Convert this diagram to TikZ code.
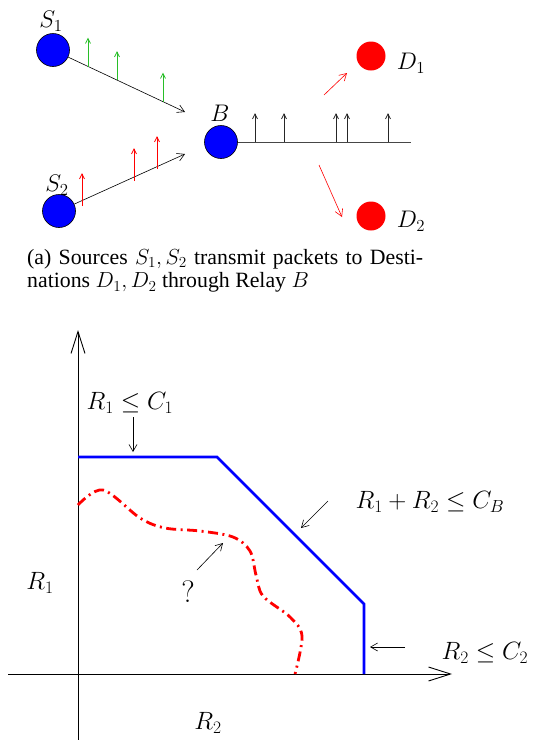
\RequirePackage{fix-cm}
\documentclass[tikz,border=0pt]{standalone}
\usepackage{fontspec}
\newfontfamily\capfont{Liberation Serif}
\usetikzlibrary{arrows.meta}
\definecolor{pgreen}{RGB}{40,190,40}
\definecolor{lgray}{RGB}{70,70,70}
\begin{document}
\begin{tikzpicture}[x=1pt,y=-1pt,
  srcnode/.style={circle, draw=black, fill=blue, minimum size=33pt, inner sep=0pt, line width=0.6pt},
  dstnode/.style={circle, fill=red, minimum size=29pt, inner sep=0pt},
  toplbl/.style={font=\fontsize{24}{28}\selectfont, inner sep=0pt},
  botlbl/.style={font=\fontsize{25}{30}\selectfont, inner sep=0pt},
  flow/.style={line width=0.6pt, -{Straight Barb[length=7pt,width=8pt]}},
  pkt/.style={line width=0.8pt, -{Straight Barb[length=5pt,width=5pt]}},
  note/.style={line width=0.6pt, black, -{Straight Barb[length=7pt,width=8pt]}},
  axis/.style={line width=0.9pt, black, -{Straight Barb[length=22pt,width=14pt]}},
  region/.style={line width=2.8pt, blue, line join=miter},
  guess/.style={line width=2.8pt, red, dash pattern=on 10pt off 4.5pt on 2pt off 4.5pt}
]
\useasboundingbox (0,0) rectangle (534,740);

% ---------- top: network ----------
\node[srcnode] (s1) at (53,50) {};
\node[srcnode] (s2) at (59,211) {};
\node[srcnode] (b) at (221,142) {};
\node[dstnode] (d1) at (371,56) {};
\node[dstnode] (d2) at (371,216) {};

\node[toplbl] (ls1) at (51,21) {$S_1$};
\node[toplbl] (ls2) at (57,185) {$S_2$};
\node[toplbl] (lb) at (220,113) {$B$};
\node[toplbl] (ld1) at (411,63) {$D_1$};
\node[toplbl] (ld2) at (411,221) {$D_2$};

\coordinate (f1) at (185,112);
\coordinate (f2) at (185,154);
\draw[flow] (s1) -- (f1);
\draw[flow] (s2) -- (f2);

% green packets on S1 link
\foreach \x/\y [count=\i] in {88/66.5, 117/80, 163/101.5}{
  \coordinate (ga\i) at (\x,\y);
  \coordinate (gb\i) at (\x,\y-29);
  \draw[pkt, pgreen] (ga\i) -- (gb\i);
}
% red packets on S2 link
\foreach \x/\y [count=\i] in {82/206, 134/181, 157/169}{
  \coordinate (ra\i) at (\x,\y);
  \coordinate (rb\i) at (\x,\y-33);
  \draw[pkt, red] (ra\i) -- (rb\i);
}

% relay broadcast line
\coordinate (bend) at (411,142);
\draw[line width=0.8pt, lgray] (b) -- (bend);
\foreach \x [count=\i] in {255,284,336,347,388}{
  \coordinate (ka\i) at (\x,142);
  \coordinate (kb\i) at (\x,113);
  \draw[pkt, black!85] (ka\i) -- (kb\i);
}

% red arrows to destinations
\coordinate (e1a) at (324,95);
\coordinate (e1b) at (347,73);
\coordinate (e2a) at (319,165);
\coordinate (e2b) at (342,217);
\draw[flow, red] (e1a) -- (e1b);
\draw[flow, red] (e2a) -- (e2b);

% caption
\node[anchor=north west, inner sep=0pt, text width=396pt, align=justify,
      font=\capfont\fontsize{21.8}{23.5}\selectfont] (cap) at (27,249)
  {(a) Sources $S_1, S_2$ transmit packets to Desti-\linebreak
   nations $D_1, D_2$ through Relay $B$};

% ---------- bottom: rate region ----------
\coordinate (ybot) at (78,740);
\coordinate (ytop) at (78,330);
\coordinate (xl) at (8,674);
\coordinate (xr) at (452,674);
\draw[axis] (ybot) -- (ytop);
\draw[axis] (xl) -- (xr);

\coordinate (p1) at (78,457);
\coordinate (p2) at (217,457);
\coordinate (p3) at (364,604);
\coordinate (p4) at (364,674);
\draw[region] (p1) -- (p2) -- (p3) -- (p4);

\draw[guess] plot[smooth, tension=0.55] coordinates {
  (78,505) (103,490) (140,518) (165,528) (200,531) (233,537)
  (250,551) (256,575) (263,596) (290,617) (302,636) (295,674)};

\node[botlbl] (c1) at (130,403) {$R_1 \leq C_1$};
\node[botlbl] (cb) at (430,502) {$R_1 + R_2 \leq C_B$};
\node[botlbl] (c2) at (485,653) {$R_2 \leq C_2$};
\node[botlbl] (r1) at (40,583) {$R_1$};
\node[botlbl] (r2) at (208,723) {$R_2$};
\node[inner sep=0pt, font=\fontsize{31}{34}\selectfont] (q) at (188,592) {?};

\coordinate (n1a) at (133,417); \coordinate (n1b) at (133,452);
\coordinate (n2a) at (328,501); \coordinate (n2b) at (301,528);
\coordinate (n3a) at (405,647); \coordinate (n3b) at (370,647);
\coordinate (n4a) at (197,570); \coordinate (n4b) at (223,543);
\draw[note] (n1a) -- (n1b);
\draw[note] (n2a) -- (n2b);
\draw[note] (n3a) -- (n3b);
\draw[note] (n4a) -- (n4b);
\end{tikzpicture}
\end{document}
